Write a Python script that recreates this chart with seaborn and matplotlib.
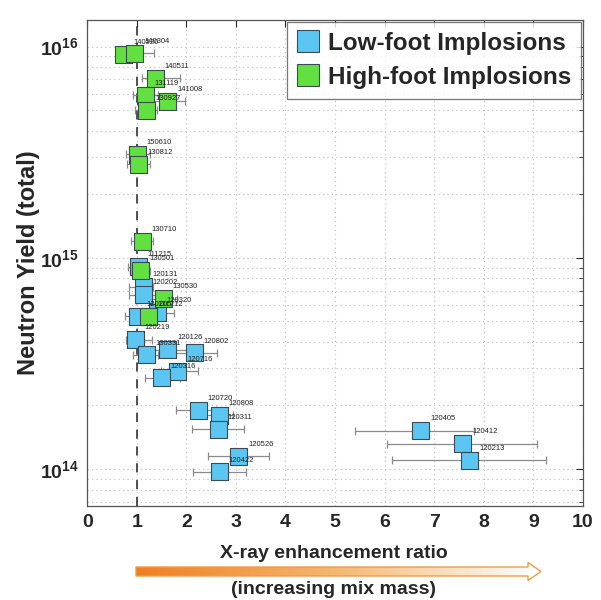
import numpy as np
import pandas as pd
import matplotlib
matplotlib.use("Agg")
import matplotlib.pyplot as plt
import seaborn as sns
from matplotlib.patches import Polygon
from matplotlib.ticker import LogLocator, NullFormatter, FixedLocator
from matplotlib.colors import LinearSegmentedColormap

# ---------------- data ----------------
series_names = ["Low-foot Implosions", "High-foot Implosions"]

lf_labels = ["111215", "120131", "120202", "120320", "120205", "120219", "120126",
             "120802", "130331", "120716", "120316", "120720", "120808", "120311",
             "120526", "120422", "120405", "120412", "120213"]
lf_x = [1.03, 1.13, 1.13, 1.41, 1.01, 0.97, 1.63, 2.16, 1.19, 1.83, 1.49, 2.24,
        2.66, 2.64, 3.06, 2.66, 6.73, 7.58, 7.72]
lf_y = [9.1e14, 7.3e14, 6.7e14, 5.5e14, 5.3e14, 4.1e14, 3.67e14, 3.55e14, 3.47e14,
        2.91e14, 2.70e14, 1.90e14, 1.80e14, 1.54e14, 1.15e14, 9.7e13, 1.52e14,
        1.32e14, 1.10e14]
lf_x_low = [0.83, 0.85, 0.85, 1.15, 0.77, 0.79, 1.27, 1.74, 0.93, 1.49, 1.17, 1.80,
            2.40, 2.12, 2.44, 2.14, 5.40, 6.05, 6.15]
lf_x_high = [1.23, 1.33, 1.40, 1.75, 1.25, 1.31, 2.08, 2.62, 1.43, 2.24, 1.87, 2.60,
             2.95, 3.17, 3.67, 3.20, 7.80, 9.07, 9.25]

hf_labels = ["140520", "140304", "140511", "131119", "141008", "130927", "150610",
             "130812", "130710", "130501", "130530", "131212"]
hf_x = [0.73, 0.95, 1.37, 1.17, 1.63, 1.19, 1.01, 1.03, 1.11, 1.07, 1.53, 1.23]
hf_y = [9.2e15, 9.3e15, 7.1e15, 5.9e15, 5.5e15, 5.0e15, 3.1e15, 2.78e15, 1.2e15,
        8.7e14, 6.4e14, 5.3e14]
hf_x_low = [0.58, 0.80, 1.11, 0.93, 1.23, 0.97, 0.79, 0.81, 0.89, 0.87, 1.31, 1.01]
hf_x_high = [0.90, 1.35, 1.88, 1.43, 1.98, 1.41, 1.27, 1.27, 1.33, 1.27, 1.81, 1.51]

x_ticks = [0, 1, 2, 3, 4, 5, 6, 7, 8, 9, 10]
y_ticks = [1e14, 1e15, 1e16]
y_tick_labels = [r"$\mathbf{10^{14}}$", r"$\mathbf{10^{15}}$", r"$\mathbf{10^{16}}$"]

# ---------------- styling ----------------
sns.set_style("white")
plt.rcParams["font.family"] = ["Liberation Sans", "DejaVu Sans"]
plt.rcParams["mathtext.fontset"] = "custom"
plt.rcParams["mathtext.bf"] = "Liberation Sans:bold"
plt.rcParams["mathtext.rm"] = "Liberation Sans"

blue = "#5CC6F2"
green = "#62E03F"
edge = "#3c4a55"

fig = plt.figure(figsize=(6.01, 6.00), dpi=100)
ax = fig.add_axes([0.145, 0.157, 0.825, 0.810])

df = pd.DataFrame({
    "x": lf_x + hf_x,
    "y": lf_y + hf_y,
    "group": [series_names[0]] * len(lf_x) + [series_names[1]] * len(hf_x),
})

# error bars
for xs, ys, lo, hi in [(lf_x, lf_y, lf_x_low, lf_x_high), (hf_x, hf_y, hf_x_low, hf_x_high)]:
    xs_a = np.array(xs)
    err = np.vstack([xs_a - np.array(lo), np.array(hi) - xs_a])
    ax.errorbar(xs, ys, xerr=err, fmt="none", ecolor="#8a8a8a", elinewidth=0.9,
                capsize=3, capthick=0.9, zorder=2)

sns.scatterplot(data=df, x="x", y="y", hue="group", hue_order=series_names,
                palette=[blue, green], marker="s", s=150, edgecolor=edge,
                linewidth=0.8, ax=ax, zorder=3)

# shot labels
for xs, ys, labs in [(lf_x, lf_y, lf_labels), (hf_x, hf_y, hf_labels)]:
    for xv, yv, lab in zip(xs, ys, labs):
        ax.annotate(lab, (xv, yv), xytext=(7, 8.5), textcoords="offset points",
                    fontsize=5.5, color="#222222", ha="left", va="center", zorder=4)

ax.axvline(1, color="#222222", linestyle=(0, (6, 5)), linewidth=1.1, zorder=1)

ax.set_yscale("log")
ax.set_xlim(0, 10)
ax.set_ylim(6.7e13, 1.34e16)
ax.xaxis.set_major_locator(FixedLocator(x_ticks))
ax.set_xticklabels([str(t) for t in x_ticks], fontsize=14, fontweight="bold")
ax.yaxis.set_major_locator(FixedLocator(y_ticks))
ax.set_yticklabels(y_tick_labels, fontsize=14)
ax.yaxis.set_minor_locator(LogLocator(base=10, subs=np.arange(2, 10)))
ax.yaxis.set_minor_formatter(NullFormatter())
ax.tick_params(axis="both", which="both", direction="in", top=True, right=True)
ax.tick_params(axis="both", which="major", length=5, width=0.8, pad=6)
ax.tick_params(axis="y", which="minor", length=3, width=0.6)

ax.grid(True, which="major", axis="x", linestyle=(0, (1, 3)), color="#bdbdbd", linewidth=0.8)
ax.grid(True, which="both", axis="y", linestyle=(0, (1, 3)), color="#bdbdbd", linewidth=0.8)
for sp in ax.spines.values():
    sp.set_color("#555555")
    sp.set_linewidth(0.9)

ax.set_xlabel("")
ax.set_ylabel("Neutron Yield (total)", fontsize=17, fontweight="bold", labelpad=0)

leg = ax.legend(loc="upper right", prop={"weight": "bold", "size": 17.5},
                markerscale=1.3, frameon=True, fancybox=False, handletextpad=0.35,
                borderpad=0.4, labelspacing=0.45, borderaxespad=0.1, handlelength=0.9)
leg.get_frame().set_edgecolor("#555555")
leg.get_frame().set_linewidth(0.9)

# x label and arrow below
fig.text(0.555, 0.078, "X-ray enhancement ratio", ha="center", va="center",
         fontsize=14, fontweight="bold")
fig.text(0.555, 0.017, "(increasing mix mass)", ha="center", va="center",
         fontsize=14, fontweight="bold")

ov = fig.add_axes([0, 0, 1, 1], zorder=-1)
ov.set_xlim(0, 601)
ov.set_ylim(600, 0)
ov.axis("off")
x0, x1, xh = 136, 528, 541
yc, hs, hh = 571.5, 4.5, 9.0
pts = [(x0, yc - hs), (x1, yc - hs), (x1, yc - hh), (xh, yc), (x1, yc + hh),
       (x1, yc + hs), (x0, yc + hs)]
grad = np.linspace(0, 1, 256)[None, :]
cmap = LinearSegmentedColormap.from_list("og", ["#EE7F22", "#F6B870", "#FFFFFF"])
im = ov.imshow(grad, extent=[x0, x1 + 10, yc + hh, yc - hh], cmap=cmap, aspect="auto")
poly_clip = Polygon([(x0, yc - hs), (x1, yc - hs), (x1, yc + hs), (x0, yc + hs)],
                    closed=True, transform=ov.transData, facecolor="none", edgecolor="none")
ov.add_patch(poly_clip)
im.set_clip_path(poly_clip)
ov.add_patch(Polygon(pts, closed=True, facecolor="none", edgecolor="#F29A45", linewidth=1.0))

fig.savefig("out.png", dpi=100)
